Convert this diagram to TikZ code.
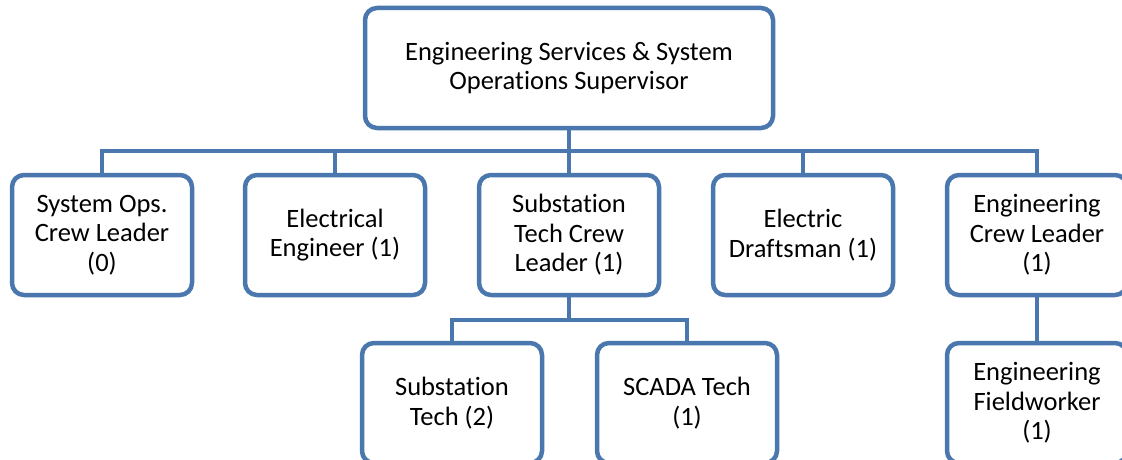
\documentclass[tikz,border=0pt]{standalone}
\usepackage{fontspec}
\setmainfont{Carlito}[Ligatures=CommonOff]
\definecolor{boxline}{HTML}{4A77AD}
\begin{document}
\begin{tikzpicture}[x=1pt,y=-1pt,
  box/.style={draw=boxline, line width=4.5pt, rounded corners=12pt, fill=white,
    minimum width=180pt, minimum height=120pt, align=center, inner sep=0pt,
    font=\fontsize{26.5}{29.5}\selectfont},
  conn/.style={draw=boxline, line width=4.5pt}]
\useasboundingbox (0,0) rectangle (1122,460);
\coordinate (bus) at (569,151);
\coordinate (sbus) at (569,320);
\node[box, minimum width=408pt] (top) at (569,68) {Engineering Services \& System\\Operations Supervisor};
\node[box] (sys) at (102,235) {System Ops.\\Crew Leader\\(0)};
\node[box] (ee) at (335,235) {Electrical\\Engineer (1)};
\node[box] (stcl) at (569,235) {Substation\\Tech Crew\\Leader (1)};
\node[box] (ed) at (803,235) {Electric\\Draftsman (1)};
\node[box] (ecl) at (1037,235) {Engineering\\Crew Leader\\(1)};
\node[box] (st) at (452,403) {Substation\\Tech (2)};
\node[box] (scada) at (687,403) {SCADA Tech\\(1)};
\node[box] (efw) at (1037,403) {Engineering\\Fieldworker\\(1)};
\draw[conn] (top.south) -- (bus);
\draw[conn] (bus) -| (sys.north);
\draw[conn] (bus) -| (ee.north);
\draw[conn] (bus) -- (stcl.north);
\draw[conn] (bus) -| (ed.north);
\draw[conn] (bus) -| (ecl.north);
\draw[conn] (stcl.south) -- (sbus);
\draw[conn] (sbus) -| (st.north);
\draw[conn] (sbus) -| (scada.north);
\draw[conn] (ecl.south) -- (efw.north);
\end{tikzpicture}
\end{document}
